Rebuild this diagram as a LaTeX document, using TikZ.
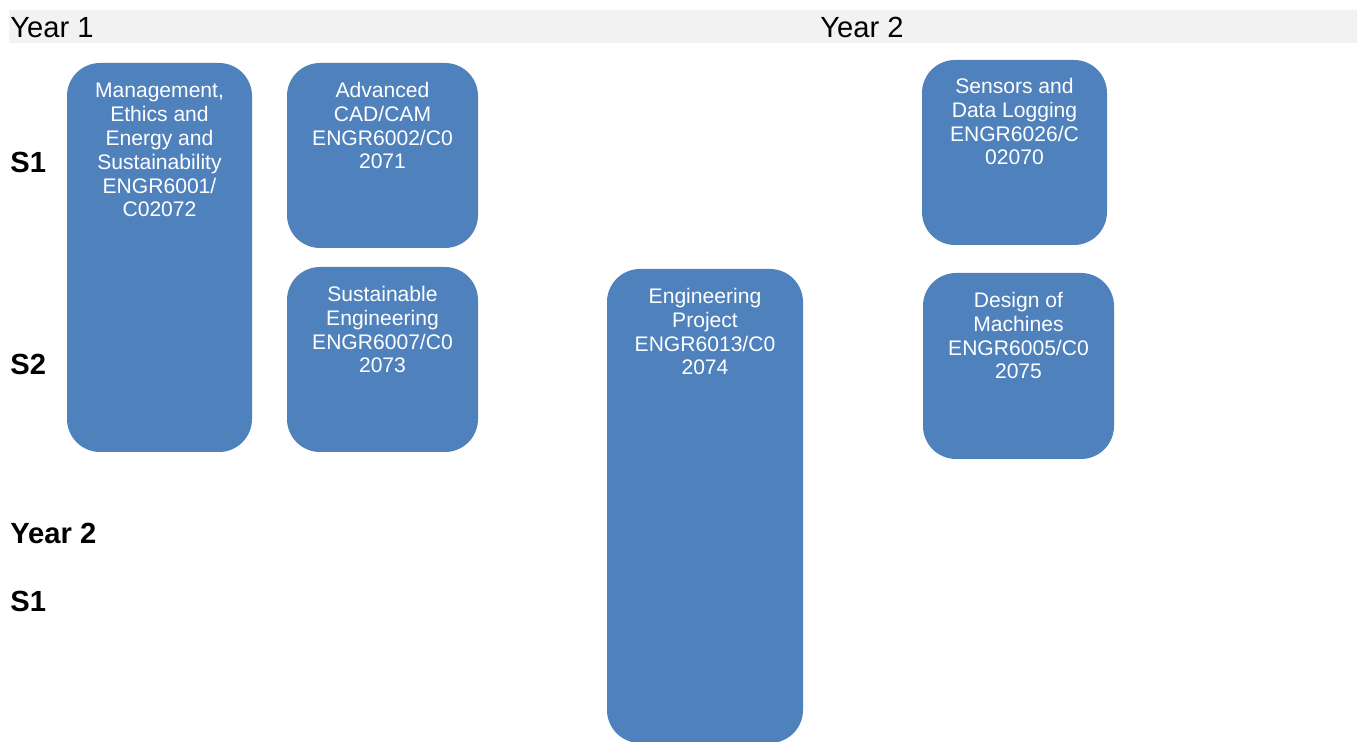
\documentclass[tikz,border=0pt]{standalone}
\usepackage{fontspec}
\setmainfont{Liberation Sans}
\usepackage{xcolor}
\definecolor{tilefill}{HTML}{4F81BD}
\definecolor{yearbar}{HTML}{F2F2F2}

\begin{document}
\begin{tikzpicture}[x=0.02cm, y=-0.02cm,
  tile/.style={fill=tilefill, rounded corners=0.66cm},
  tiletext/.style={anchor=base, align=center, text=white, font=\fontsize{12}{13.6}\selectfont},
  yearlbl/.style={anchor=base west, inner sep=0pt, font=\fontsize{16.6}{19}\selectfont},
  rowlbl/.style={anchor=base west, inner sep=0pt, font=\fontsize{16.6}{19}\selectfont\bfseries}]
\useasboundingbox (0,0) rectangle (1357,742);
\fill[yearbar] (9,10) rectangle (1357,43);
\node[yearlbl] (yearone) at (10,38) {Year 1};
\node[yearlbl] (yeartwo) at (820,38) {Year 2};
\node[rowlbl] (sone) at (10,173) {S1};
\node[rowlbl] (stwo) at (10,375) {S2};
\node[rowlbl] (ytwo) at (10,544) {Year 2};
\node[rowlbl] (sthree) at (10,612) {S1};
% year 1 (text nodes sit on the baseline of their last line)
\fill[tile] (67,63) rectangle (252,452);
\node[tiletext] (mgmt) at (159.5,217) {Management,\\Ethics and\\Energy and\\Sustainability\\ENGR6001/\\C02072};
\fill[tile] (287,63) rectangle (478,248);
\node[tiletext] (cad) at (382.5,169) {Advanced\\CAD/CAM\\ENGR6002/C0\\2071};
\fill[tile] (287,267) rectangle (478,452);
\node[tiletext] (sust) at (382.5,373) {Sustainable\\Engineering\\ENGR6007/C0\\2073};
% year 2
\fill[tile] (607,269) rectangle (803,743);
\node[tiletext] (proj) at (705,375) {Engineering\\Project\\ENGR6013/C0\\2074};
\fill[tile] (922,60) rectangle (1107,245);
\node[tiletext] (sens) at (1014.5,165) {Sensors and\\Data Logging\\ENGR6026/C\\02070};
\fill[tile] (923,273) rectangle (1114,459);
\node[tiletext] (mach) at (1018.5,379) {Design of\\Machines\\ENGR6005/C0\\2075};
\end{tikzpicture}
\end{document}
